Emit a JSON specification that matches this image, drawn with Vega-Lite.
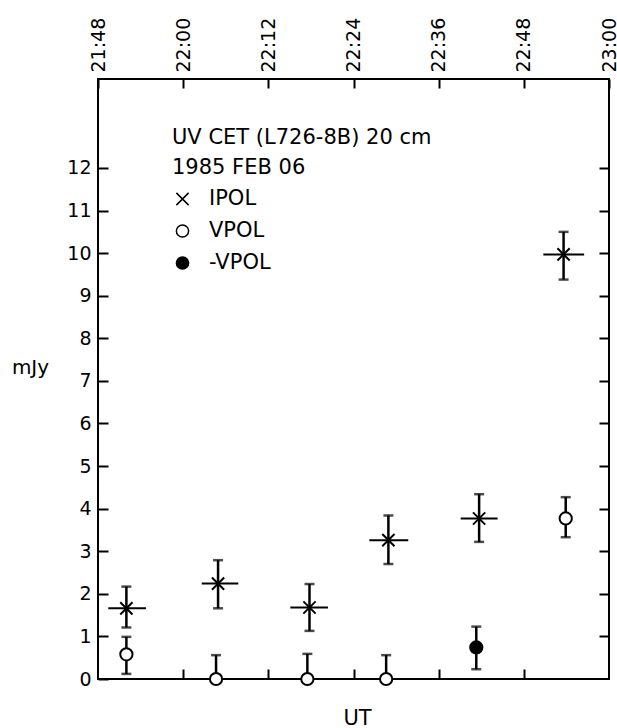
{
  "$schema": "https://vega.github.io/schema/vega-lite/v6.json",
  "width": 511,
  "height": 600,
  "autosize": {"type": "none"},
  "padding": {"left": 98, "top": 79, "right": 8, "bottom": 49},
  "background": "white",
  "config": {
    "font": "DejaVu Sans",
    "view": {"stroke": "black", "strokeWidth": 2},
    "axis": {
      "domain": false,
      "grid": false,
      "ticks": true,
      "tickColor": "black",
      "tickWidth": 2,
      "tickSize": -10,
      "labelColor": "black",
      "labelFont": "DejaVu Sans",
      "titleColor": "black",
      "titleFont": "DejaVu Sans",
      "titleFontWeight": "normal",
      "labelFlush": false,
      "labelOverlap": false,
      "labelBound": false
    }
  },
  "data": {
    "values": [
      {"series": "IPOL", "t": "1985-02-06T21:52:00Z", "y": 1.66, "lo": 1.21, "hi": 2.17, "t0": "1985-02-06T21:49:27Z", "t1": "1985-02-06T21:54:46Z"},
      {"series": "IPOL", "t": "1985-02-06T22:04:55Z", "y": 2.24, "lo": 1.66, "hi": 2.79, "t0": "1985-02-06T22:02:37Z", "t1": "1985-02-06T22:07:46Z"},
      {"series": "IPOL", "t": "1985-02-06T22:17:48Z", "y": 1.68, "lo": 1.13, "hi": 2.23, "t0": "1985-02-06T22:15:06Z", "t1": "1985-02-06T22:20:24Z"},
      {"series": "IPOL", "t": "1985-02-06T22:28:55Z", "y": 3.26, "lo": 2.7, "hi": 3.84, "t0": "1985-02-06T22:26:14Z", "t1": "1985-02-06T22:31:43Z"},
      {"series": "IPOL", "t": "1985-02-06T22:41:42Z", "y": 3.77, "lo": 3.22, "hi": 4.34, "t0": "1985-02-06T22:39:06Z", "t1": "1985-02-06T22:44:18Z"},
      {"series": "IPOL", "t": "1985-02-06T22:53:36Z", "y": 9.97, "lo": 9.38, "hi": 10.5, "t0": "1985-02-06T22:50:45Z", "t1": "1985-02-06T22:56:30Z"},
      {"series": "VPOL", "t": "1985-02-06T21:52:00Z", "y": 0.58, "lo": 0.12, "hi": 0.99},
      {"series": "VPOL", "t": "1985-02-06T22:04:38Z", "y": 0, "lo": 0, "hi": 0.56},
      {"series": "VPOL", "t": "1985-02-06T22:17:30Z", "y": 0, "lo": 0, "hi": 0.59},
      {"series": "VPOL", "t": "1985-02-06T22:28:36Z", "y": 0, "lo": 0, "hi": 0.56},
      {"series": "VPOL", "t": "1985-02-06T22:53:54Z", "y": 3.77, "lo": 3.33, "hi": 4.27},
      {"series": "-VPOL", "t": "1985-02-06T22:41:18Z", "y": 0.74, "lo": 0.23, "hi": 1.23}
    ]
  },
  "layer": [
    {
      "mark": {"type": "rule", "color": "black", "strokeWidth": 2.5},
      "encoding": {
        "x": {
          "field": "t", "type": "temporal",
          "scale": {"type": "utc", "domain": [
            {"year": 1985, "month": 2, "date": 6, "hours": 21, "minutes": 48, "utc": true},
            {"year": 1985, "month": 2, "date": 6, "hours": 23, "minutes": 0, "utc": true}
          ]},
          "axis": {
            "orient": "top",
            "title": null,
            "labelExpr": "utcFormat(datum.value, '%H:%M')",
            "values": [
              {"year": 1985, "month": 2, "date": 6, "hours": 21, "minutes": 48, "utc": true},
              {"year": 1985, "month": 2, "date": 6, "hours": 22, "minutes": 0, "utc": true},
              {"year": 1985, "month": 2, "date": 6, "hours": 22, "minutes": 12, "utc": true},
              {"year": 1985, "month": 2, "date": 6, "hours": 22, "minutes": 24, "utc": true},
              {"year": 1985, "month": 2, "date": 6, "hours": 22, "minutes": 36, "utc": true},
              {"year": 1985, "month": 2, "date": 6, "hours": 22, "minutes": 48, "utc": true},
              {"year": 1985, "month": 2, "date": 6, "hours": 23, "minutes": 0, "utc": true}
            ],
            "labelAngle": -90,
            "labelAlign": "left",
            "labelBaseline": "middle",
            "labelFontSize": 19,
            "labelPadding": 16,
            "tickSize": -9
          }
        },
        "y": {
          "field": "lo", "type": "quantitative",
          "scale": {"domain": [0, 14.09], "nice": false, "zero": true},
          "axis": {
            "orient": "left",
            "values": [0, 1, 2, 3, 4, 5, 6, 7, 8, 9, 10, 11, 12],
            "labelFontSize": 19,
            "labelPadding": 17,
            "title": "mJy",
            "titleAngle": 0,
            "titleFontSize": 20,
            "titleAlign": "center",
            "titleBaseline": "middle",
            "titleX": -68,
            "titleY": 288
          }
        },
        "y2": {"field": "hi"}
      }
    },
    {
      "mark": {"type": "tick", "orient": "horizontal", "color": "black", "size": 10, "thickness": 2.5},
      "encoding": {
        "x": {"field": "t", "type": "temporal", "axis": null},
        "y": {"field": "lo", "type": "quantitative", "axis": null}
      }
    },
    {
      "mark": {"type": "tick", "orient": "horizontal", "color": "black", "size": 10, "thickness": 2.5},
      "encoding": {
        "x": {"field": "t", "type": "temporal", "axis": null},
        "y": {"field": "hi", "type": "quantitative", "axis": null}
      }
    },
    {
      "transform": [{"filter": "datum.series === 'IPOL'"}],
      "mark": {"type": "rule", "color": "black", "strokeWidth": 2},
      "encoding": {
        "x": {"field": "t0", "type": "temporal", "axis": null},
        "x2": {"field": "t1"},
        "y": {"field": "y", "type": "quantitative", "axis": null}
      }
    },
    {
      "mark": {"type": "point", "filled": true, "stroke": "black", "strokeWidth": 2, "opacity": 1, "size": 150},
      "encoding": {
        "x": {
          "field": "t", "type": "temporal",
          "axis": {
            "orient": "bottom",
            "labels": false,
            "values": [
              {"year": 1985, "month": 2, "date": 6, "hours": 22, "minutes": 0, "utc": true},
              {"year": 1985, "month": 2, "date": 6, "hours": 22, "minutes": 12, "utc": true},
              {"year": 1985, "month": 2, "date": 6, "hours": 22, "minutes": 24, "utc": true},
              {"year": 1985, "month": 2, "date": 6, "hours": 22, "minutes": 36, "utc": true},
              {"year": 1985, "month": 2, "date": 6, "hours": 22, "minutes": 48, "utc": true}
            ],
            "title": "UT",
            "titleFontSize": 21,
            "titleAlign": "center",
            "titleBaseline": "middle",
            "titleX": 259,
            "titleY": 39
          }
        },
        "y": {
          "field": "y", "type": "quantitative",
          "axis": {
            "orient": "right",
            "labels": false,
            "title": null,
            "values": [1, 2, 3, 4, 5, 6, 7, 8, 9, 10, 11, 12]
          }
        },
        "shape": {
          "field": "series", "type": "nominal",
          "scale": {"domain": ["IPOL", "VPOL", "-VPOL"], "range": ["M-1,-1L1,1M-1,1L1,-1", "circle", "circle"]},
          "legend": {
            "orient": "none", "legendX": 74, "legendY": 48, "padding": 0,
            "title": ["UV CET (L726-8B) 20 cm", "1985 FEB 06"],
            "titleFontSize": 21, "titleFontWeight": "normal", "titleColor": "black", "titleLineHeight": 29.5, "titlePadding": 11, "titleLimit": 0,
            "labelFontSize": 21, "labelColor": "black", "labelOffset": 16, "labelLimit": 0,
            "symbolSize": 150, "rowPadding": 10,
            "encode": {
              "symbols": {
                "update": {
                  "stroke": {"value": "black"},
                  "strokeWidth": {"value": 2},
                  "size": {"value": 150},
                  "fill": {"signal": "datum.value === 'VPOL' ? 'white' : (datum.value === '-VPOL' ? 'black' : 'transparent')"}
                }
              }
            }
          }
        },
        "fill": {
          "field": "series", "type": "nominal",
          "scale": {"domain": ["IPOL", "VPOL", "-VPOL"], "range": ["transparent", "white", "black"]},
          "legend": null
        }
      }
    }
  ],
  "resolve": {"axis": {"x": "independent", "y": "independent"}}
}
